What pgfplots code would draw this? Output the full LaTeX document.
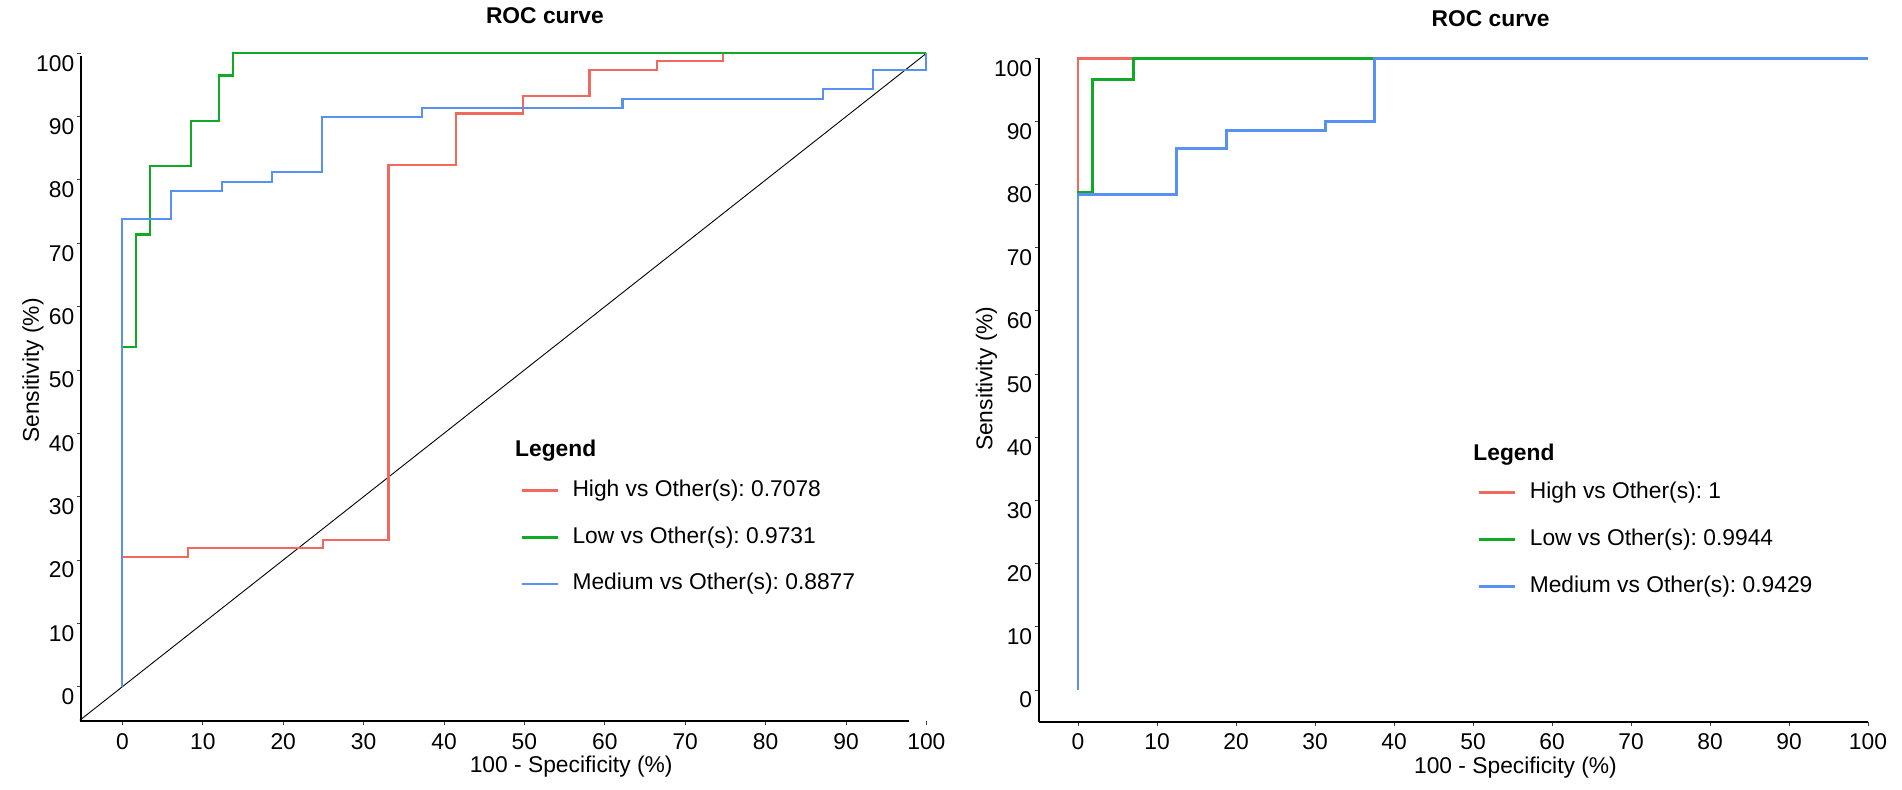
\documentclass[border=0pt]{standalone}
\usepackage{fontspec}
\setmainfont{Liberation Sans}
\usepackage{pgfplots}
\pgfplotsset{compat=1.18}
\definecolor{cHigh}{RGB}{240,104,94}
\definecolor{cLow}{RGB}{16,170,38}
\definecolor{cMed}{RGB}{88,145,240}
\newcommand{\fs}{\fontsize{11.4}{13}\selectfont}
\frenchspacing
\pgfplotsset{
  rocstyle/.style={
    scale only axis,
    clip=false,
    xtick={0,10,...,100}, ytick={0,10,...,100},
    tick align=outside, major tick length=2pt,
    tick style={black!75, line width=0.5pt},
    every tick label/.append style={font=\fs},
    /pgf/number format/assume math mode=true,
    yticklabel style={anchor=east, inner sep=1pt, yshift=-5pt},
    xticklabel style={anchor=north, inner sep=0pt, yshift=-4pt},
    label style={font=\fs},
    title style={font=\bfseries\fs},
    legend cell align=left,
    legend style={draw=none, fill=none, inner sep=0pt, font=\fs,
      nodes={inner sep=0pt, text height=9pt, text depth=3pt},
      row sep=11.4pt, column sep=6.5pt},
    legend image code/.code={\draw[#1, line width=1.35pt] (0pt,0pt) -- (18pt,0pt);},
  }
}
\begin{document}
\begin{tikzpicture}
\path[use as bounding box] (0,0) rectangle (951pt,394.5pt);
% ---------- left panel ----------
\begin{axis}[rocstyle,
  at={(40.3pt,34.05pt)}, anchor=south west,
  width=422.9pt, height=333.8pt,
  xmin=-5.2, xmax=100, ymin=-5.4, ymax=100,
  axis x line*=bottom, axis y line*=left,
  axis line style={draw=none},
  title={ROC curve},
  title style={at={(axis description cs:0.549,1.0558)}, anchor=center, yshift=-6pt},
  xlabel={100 - Specificity (\%)},
  xlabel style={at={(axis description cs:0.58,0)}, anchor=center, yshift=-23pt},
  ylabel={Sensitivity (\%)},
  ylabel style={at={(axis description cs:-0.0563,0.525)}, anchor=center},
  legend style={at={(axis description cs:0.52,0.3639)}, anchor=north west},
]
\draw[line width=1pt] (axis cs:-5.2,99.6) -- (axis cs:-5.2,-5.4) -- (axis cs:97.8,-5.4);
\addplot[black, line width=0.45pt, forget plot] coordinates {(-5.3,-5.3) (100,100)};
\addplot[cHigh, line width=1.05pt] coordinates {
 (0,0) (0,20.5) (8.2,20.5) (8.2,21.9) (24.9,21.9) (24.9,23.2) (33.1,23.2)
 (33.1,82.3) (41.5,82.3) (41.5,90.5) (49.8,90.5) (49.8,93.3) (58.1,93.3)
 (58.1,97.4) (66.5,97.4) (66.5,98.8) (74.7,98.8) (74.7,100) (100,100)};
\addlegendentry{High vs Other(s): 0.7078}
\addplot[cLow, line width=1.05pt] coordinates {
 (0,0) (0,53.6) (1.7,53.6) (1.7,71.4) (3.4,71.4) (3.4,82.2) (8.5,82.2)
 (8.5,89.3) (12.0,89.3) (12.0,96.5) (13.7,96.5) (13.7,100) (100,100)};
\addlegendentry{Low vs Other(s): 0.9731}
\addplot[cMed, line width=1.05pt] coordinates {
 (0,0) (0,73.9) (6.0,73.9) (6.0,78.3) (12.4,78.3) (12.4,79.7) (18.6,79.7)
 (18.6,81.2) (24.8,81.2) (24.8,89.9) (37.3,89.9) (37.3,91.4) (62.2,91.4)
 (62.2,92.8) (87.1,92.8) (87.1,94.3) (93.4,94.3) (93.4,97.3) (100,97.3) (100,100)};
\addlegendentry{Medium vs Other(s): 0.8877}
\node[anchor=base west, inner sep=0pt, font=\bfseries\fs] at (axis cs:48.8,36.4) {Legend};
\end{axis}
% ---------- right panel ----------
\begin{axis}[rocstyle,
  at={(519.25pt,33.7pt)}, anchor=south west,
  width=414.75pt, height=331.65pt,
  xmin=-5, xmax=100, ymin=-5, ymax=100,
  axis x line*=bottom, axis y line*=left,
  axis line style={line width=1pt},
  title={ROC curve},
  title style={at={(axis description cs:0.545,1.0603)}, anchor=center, yshift=-6pt},
  xlabel={100 - Specificity (\%)},
  xlabel style={at={(axis description cs:0.575,0)}, anchor=center, yshift=-23pt},
  ylabel={Sensitivity (\%)},
  ylabel style={at={(axis description cs:-0.0627,0.517)}, anchor=center},
  legend style={at={(axis description cs:0.5295,0.3638)}, anchor=north west},
]
\addplot[cHigh, line width=1.4pt] coordinates {(0,0) (0,100) (100,100)};
\addlegendentry{High vs Other(s): 1}
\addplot[cLow, line width=1.4pt] coordinates {
 (0,0) (0,78.8) (1.8,78.8) (1.8,96.6) (7.0,96.6) (7.0,100) (100,100)};
\addlegendentry{Low vs Other(s): 0.9944}
\addplot[cMed, line width=1.4pt] coordinates {
 (0,0) (0,78.4) (12.5,78.4) (12.5,85.7) (18.8,85.7) (18.8,88.6) (31.3,88.6)
 (31.3,90.0) (37.5,90.0) (37.5,100) (100,100)};
\addlegendentry{Medium vs Other(s): 0.9429}
\node[anchor=base west, inner sep=0pt, font=\bfseries\fs] at (axis cs:50.0,36.4) {Legend};
\end{axis}
\end{tikzpicture}
\end{document}
